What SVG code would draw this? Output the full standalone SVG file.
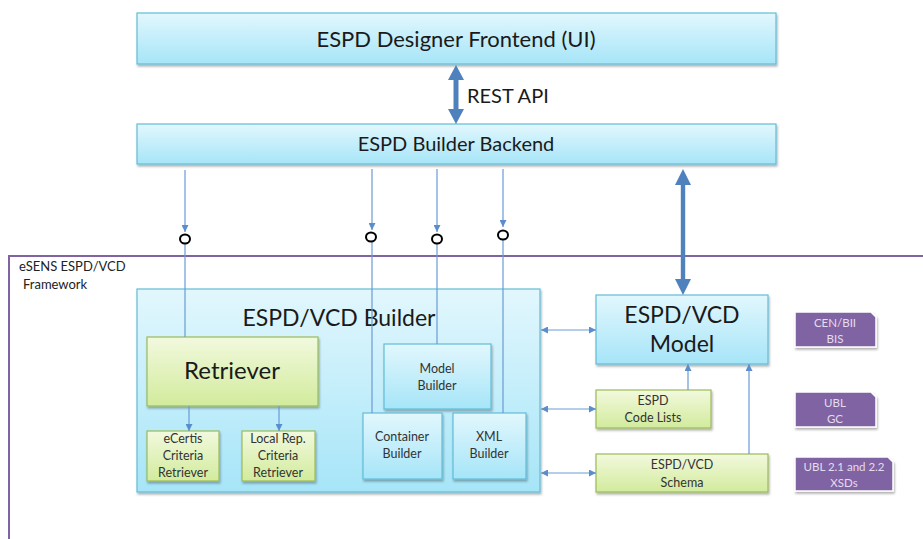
<svg xmlns="http://www.w3.org/2000/svg" width="923" height="539" viewBox="0 0 923 539">
<defs>
<linearGradient id="gb" x1="0" y1="0" x2="0" y2="1"><stop offset="0" stop-color="#e2f7fd"/><stop offset="1" stop-color="#a6e5f8"/></linearGradient>
<linearGradient id="gg" x1="0" y1="0" x2="0" y2="1"><stop offset="0" stop-color="#f2f9de"/><stop offset="1" stop-color="#d2eb9c"/></linearGradient>
<filter id="sh" x="-10%" y="-10%" width="130%" height="140%"><feDropShadow dx="1" dy="2" stdDeviation="1.2" flood-color="#000" flood-opacity="0.3"/></filter>
<marker id="ta" viewBox="0 0 10 10" refX="10" refY="5" markerWidth="7" markerHeight="7" markerUnits="userSpaceOnUse" orient="auto-start-reverse"><path d="M0,0 L10,5 L0,10 z" fill="#5a8dcc"/></marker>
<style>
.blue{fill:url(#gb);stroke:#62bdd8;stroke-width:1.2;filter:url(#sh)}
.green{fill:url(#gg);stroke:#9bbb59;stroke-width:1.2;filter:url(#sh)}
.doc{fill:#8064a2;stroke:#fff;stroke-width:1.5;filter:url(#sh)}
text{font-family:Lato,"Liberation Sans",sans-serif;fill:#1a1a1a;text-anchor:middle}
.s{font-size:12.5px;fill:#333}
.w{font-size:11.5px;fill:#e4dcef}
.thin{stroke:#6a9bd6;stroke-width:1.2;fill:none}
.big{fill:#4f81bd}
.ring{fill:none;stroke:#000;stroke-width:2}
</style>
</defs>

<g id="frame">
<path d="M923,256 H9 V539" fill="none" stroke="#8064a2" stroke-width="2"/>
<text x="19" y="271" style="font-size:13px;text-anchor:start;fill:#222">eSENS ESPD/VCD</text>
<text x="23" y="289" style="font-size:13px;text-anchor:start;fill:#222">Framework</text>
</g>

<g id="frontend">
<rect class="blue" x="137" y="13" width="639" height="51"/>
<text x="456" y="47" style="font-size:22px">ESPD Designer Frontend (UI)</text>
</g>

<g id="backend">
<rect class="blue" x="137" y="124" width="639" height="40"/>
<text x="456" y="151" style="font-size:20px">ESPD Builder Backend</text>
</g>

<g id="builder">
<rect class="blue" x="137" y="289" width="403" height="203"/>
<text x="339" y="326" style="font-size:23px">ESPD/VCD Builder</text>
</g>

<g id="retriever">
<rect class="green" x="147" y="337" width="171" height="69"/>
<text x="232" y="379" style="font-size:24px">Retriever</text>
</g>

<g id="ecertis">
<rect class="green" x="147" y="431" width="72" height="50"/>
<text class="s" x="183" y="443">eCertis</text>
<text class="s" x="183" y="460">Criteria</text>
<text class="s" x="183" y="477">Retriever</text>
</g>

<g id="localrep">
<rect class="green" x="242" y="431" width="73" height="50"/>
<text class="s" x="278" y="443">Local Rep.</text>
<text class="s" x="278" y="460">Criteria</text>
<text class="s" x="278" y="477">Retriever</text>
</g>

<g id="modelbuilder">
<rect class="blue" x="384" y="344" width="107" height="65"/>
<text class="s" x="437" y="373">Model</text>
<text class="s" x="437" y="390">Builder</text>
</g>

<g id="containerbuilder">
<rect class="blue" x="363" y="413" width="79" height="66"/>
<text class="s" x="402" y="441">Container</text>
<text class="s" x="402" y="458">Builder</text>
</g>

<g id="xmlbuilder">
<rect class="blue" x="453" y="413" width="73" height="66"/>
<text class="s" x="489" y="441">XML</text>
<text class="s" x="489" y="458">Builder</text>
</g>

<g id="model">
<rect class="blue" x="596" y="295" width="172" height="69"/>
<text x="682" y="323" style="font-size:23px">ESPD/VCD</text>
<text x="682" y="352" style="font-size:23px">Model</text>
</g>

<g id="codelists">
<rect class="green" x="596" y="390" width="115" height="38"/>
<text class="s" x="653" y="405">ESPD</text>
<text class="s" x="653" y="422">Code Lists</text>
</g>

<g id="schema">
<rect class="green" x="596" y="454" width="172" height="38"/>
<text class="s" x="682" y="469">ESPD/VCD</text>
<text class="s" x="682" y="487">Schema</text>
</g>

<g id="cenbii">
<path class="doc" d="M795,312 H871 L876,317 V347 H795 Z"/>
<text class="w" x="835" y="327">CEN/BII</text>
<text class="w" x="835" y="343">BIS</text>
</g>

<g id="ublgc">
<path class="doc" d="M795,392 H871 L876,397 V427 H795 Z"/>
<text class="w" x="835" y="407">UBL</text>
<text class="w" x="835" y="423">GC</text>
</g>

<g id="ublxsd">
<path class="doc" d="M795,457 H888 L893,462 V491 H795 Z"/>
<text class="w" x="844" y="471">UBL 2.1 and 2.2</text>
<text class="w" x="844" y="487">XSDs</text>
</g>

<g id="connectors">
<path class="big" d="M456,65 L464,80 L458.5,80 L458.5,109 L464,109 L456,124 L448,109 L453.5,109 L453.5,80 L448,80 Z"/>
<text x="467" y="103" style="font-size:20px;text-anchor:start">REST API</text>
<path class="big" d="M683,169 L691,185 L685.2,185 L685.2,279 L691,279 L683,295 L675,279 L680.8,279 L680.8,185 L675,185 Z"/>

<line class="thin" x1="185" y1="170" x2="185" y2="232" marker-end="url(#ta)"/>
<line class="thin" x1="185" y1="244" x2="185" y2="337"/>
<ellipse class="ring" cx="185" cy="239" rx="5" ry="4.5"/>

<line class="thin" x1="372" y1="169" x2="372" y2="230" marker-end="url(#ta)"/>
<line class="thin" x1="372" y1="242" x2="372" y2="413"/>
<ellipse class="ring" cx="371" cy="237" rx="5" ry="4.5"/>

<line class="thin" x1="437" y1="169" x2="437" y2="232" marker-end="url(#ta)"/>
<line class="thin" x1="437" y1="244" x2="437" y2="344"/>
<ellipse class="ring" cx="437" cy="239" rx="5" ry="4.5"/>

<line class="thin" x1="503" y1="169" x2="503" y2="227" marker-end="url(#ta)"/>
<line class="thin" x1="503" y1="240" x2="503" y2="413"/>
<ellipse class="ring" cx="503" cy="235" rx="5" ry="4.5"/>

<line class="thin" x1="189" y1="406" x2="189" y2="431" marker-end="url(#ta)"/>
<line class="thin" x1="279" y1="406" x2="279" y2="431" marker-end="url(#ta)"/>

<line class="thin" x1="541" y1="330" x2="596" y2="330" marker-start="url(#ta)" marker-end="url(#ta)"/>
<line class="thin" x1="541" y1="409" x2="596" y2="409" marker-start="url(#ta)" marker-end="url(#ta)"/>
<line class="thin" x1="541" y1="473" x2="596" y2="473" marker-start="url(#ta)" marker-end="url(#ta)"/>

<line class="thin" x1="688" y1="390" x2="688" y2="364" marker-end="url(#ta)"/>
<line class="thin" x1="749" y1="454" x2="749" y2="364" marker-end="url(#ta)"/>
</g>
</svg>
